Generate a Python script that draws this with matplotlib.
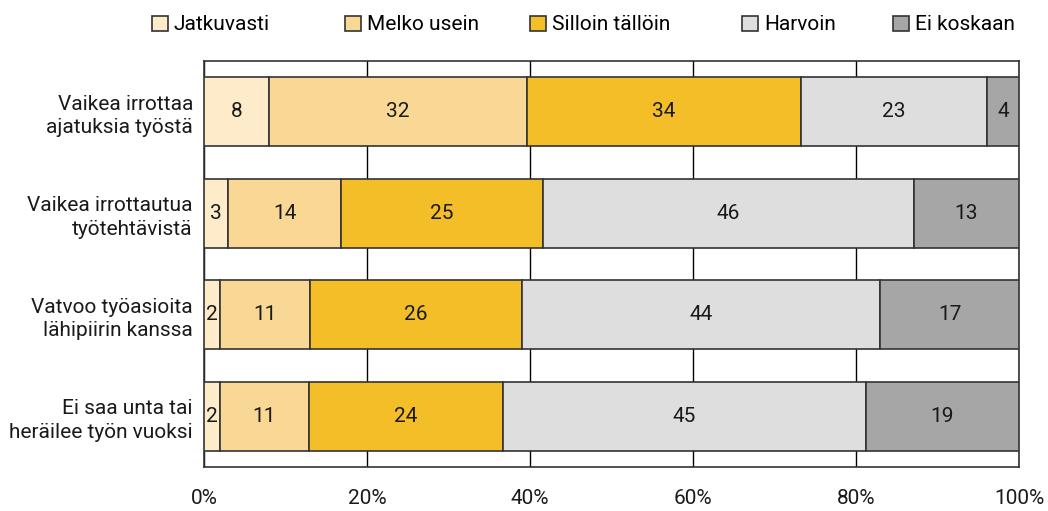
import matplotlib
matplotlib.use("Agg")
import matplotlib.pyplot as plt
import numpy as np
from matplotlib import font_manager

fams = {f.name for f in font_manager.fontManager.ttflist}
FONT = "Liberation Sans Narrow" if "Liberation Sans Narrow" in fams else "Roboto"
plt.rcParams['font.family'] = [FONT, 'DejaVu Sans']

categories = ["Vaikea irrottaa\najatuksia työstä",
              "Vaikea irrottautua\ntyötehtävistä",
              "Vatvoo työasioita\nlähipiirin kanssa",
              "Ei saa unta tai\nheräilee työn vuoksi"]
series = ["Jatkuvasti", "Melko usein", "Silloin tällöin", "Harvoin", "Ei koskaan"]
values = [
    [8, 32, 34, 23, 4],
    [3, 14, 25, 46, 13],
    [2, 11, 26, 44, 17],
    [2, 11, 24, 45, 19],
]
colors = ["#FDEBC9", "#F9D896", "#F3BE27", "#DEDEDE", "#A6A6A6"]
xticklabels = ["0%", "20%", "40%", "60%", "80%", "100%"]

fig = plt.figure(figsize=(10.48, 5.11), dpi=100)
ax = fig.add_axes([204/1048, 1-467/511, (1019-204)/1048, (467-61)/511])

vals = np.array(values, dtype=float)
pct = vals / vals.sum(axis=1, keepdims=True) * 100
y = np.arange(len(categories))
left = np.zeros(len(categories))
handles = []
for j, s in enumerate(series):
    bars = ax.barh(y, pct[:, j], left=left, height=0.68, color=colors[j],
                   edgecolor="#333333", linewidth=1.2, label=s, zorder=3)
    handles.append(bars)
    for i in range(len(categories)):
        ax.text(left[i] + pct[i, j] / 2, y[i], f"{int(vals[i, j])}",
                ha="center", va="center", fontsize=15, color="#1a1a1a", zorder=4)
    left += pct[:, j]

ax.set_xlim(0, 100)
ax.set_ylim(len(categories) - 0.5, -0.5)
ax.set_xticks([0, 20, 40, 60, 80, 100])
ax.set_xticklabels(xticklabels, fontsize=15, color="#1a1a1a")
ax.set_yticks(y)
ax.set_yticklabels(categories, fontsize=15, color="#1a1a1a", linespacing=1.3)
ax.tick_params(axis="both", length=0)
ax.tick_params(axis="x", pad=16)
ax.tick_params(axis="y", pad=8)
ax.grid(axis="x", color="black", linewidth=1.0, zorder=0)
ax.set_axisbelow(True)
for sp in ax.spines.values():
    sp.set_color("#333333")
    sp.set_linewidth(1.2)

legend_x = [152, 345, 530, 742, 893]
for h, s, lx in zip(handles, series, legend_x):
    fig.legend(handles=[h], labels=[s], loc="center left",
               bbox_to_anchor=(lx / 1048, 1 - 25 / 511), frameon=False,
               fontsize=15, handlelength=0.75, handleheight=0.75,
               handletextpad=0.3, borderpad=0, borderaxespad=0)

fig.savefig("out.png", dpi=100)
